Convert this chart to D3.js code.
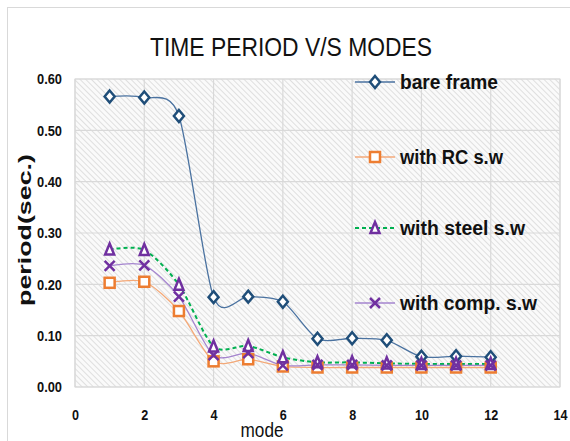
<!DOCTYPE html>
<html>
<head>
<meta charset="utf-8">
<script src="https://cdn.jsdelivr.net/npm/d3@7"></script>
<style>
  html, body { margin: 0; padding: 0; background: #fff; }
  svg { display: block; font-family: "Liberation Sans Narrow", "Arial Narrow", "Liberation Sans", sans-serif; }
</style>
</head>
<body>
<div id="chart"></div>
<script>
  // Data
  const modes = [1, 2, 3, 4, 5, 6, 7, 8, 9, 10, 11, 12];
  const bareFrame = [0.566, 0.564, 0.528, 0.175, 0.176, 0.166, 0.094, 0.095, 0.091, 0.059, 0.060, 0.058];
  const withRC = [0.203, 0.205, 0.148, 0.050, 0.054, 0.040, 0.038, 0.038, 0.038, 0.038, 0.038, 0.038];
  const withSteel = [0.268, 0.267, 0.199, 0.079, 0.080, 0.058, 0.048, 0.048, 0.046, 0.045, 0.045, 0.045];
  const withComp = [0.236, 0.237, 0.176, 0.062, 0.066, 0.042, 0.043, 0.043, 0.042, 0.042, 0.042, 0.042];
  const xTicks = [0, 2, 4, 6, 8, 10, 12, 14];
  const yTicks = [0, 0.1, 0.2, 0.3, 0.4, 0.5, 0.6];

  const series = [
    { name: 'bare frame', values: bareFrame, line: '#4a72a0', width: 1.3, dash: null, marker: 'diamond', mcolor: '#1f4e79' },
    { name: 'with RC s.w', values: withRC, line: '#f4a978', width: 1.3, dash: null, marker: 'square', mcolor: '#ed7d31' },
    { name: 'with steel s.w', values: withSteel, line: '#00b050', width: 2, dash: '4,3', marker: 'triangle', mcolor: '#7030a0' },
    { name: 'with comp. s.w', values: withComp, line: '#a585cf', width: 1.3, dash: null, marker: 'cross', mcolor: '#7030a0' }
  ];

  const W = 570, H = 441;
  const plot = { left: 75, right: 560, top: 79, bottom: 387 };

  const svg = d3.select('#chart').append('svg')
    .attr('width', W)
    .attr('height', H);

  // Hatch pattern for the plot area
  const defs = svg.append('defs');
  const pat = defs.append('pattern')
    .attr('id', 'hatch')
    .attr('patternUnits', 'userSpaceOnUse')
    .attr('width', 4)
    .attr('height', 4)
    .attr('patternTransform', 'rotate(-45)');
  pat.append('rect').attr('width', 4).attr('height', 4).attr('fill', '#fafafa');
  pat.append('line')
    .attr('x1', 0).attr('y1', 0).attr('x2', 0).attr('y2', 4)
    .attr('stroke', '#d4d4d4')
    .attr('stroke-width', 1.4);

  // Outer chart frame
  svg.append('rect')
    .attr('x', 7.5).attr('y', 7.5)
    .attr('width', 600).attr('height', 500)
    .attr('fill', '#fff')
    .attr('stroke', '#d9d9d9')
    .attr('stroke-width', 1);

  const x = d3.scaleLinear().domain([0, 14]).range([plot.left, plot.right]);
  const y = d3.scaleLinear().domain([0, 0.6]).range([plot.bottom, plot.top]);

  // Plot area
  svg.append('rect')
    .attr('x', plot.left).attr('y', plot.top)
    .attr('width', plot.right - plot.left)
    .attr('height', plot.bottom - plot.top)
    .attr('fill', 'url(#hatch)')
    .attr('stroke', '#d9d9d9');

  // Gridlines
  svg.append('g')
    .selectAll('line')
    .data(yTicks)
    .enter()
    .append('line')
    .attr('x1', plot.left).attr('x2', plot.right)
    .attr('y1', d => y(d)).attr('y2', d => y(d))
    .attr('stroke', '#d9d9d9')
    .attr('stroke-width', 1.2);

  svg.append('g')
    .selectAll('line')
    .data(xTicks)
    .enter()
    .append('line')
    .attr('y1', plot.top).attr('y2', plot.bottom)
    .attr('x1', d => x(d)).attr('x2', d => x(d))
    .attr('stroke', '#d9d9d9')
    .attr('stroke-width', 1.2);

  // Axes (labels only, as in the original) - squeezed to look like a narrow font
  const yAxis = svg.append('g')
    .attr('transform', `translate(${plot.left},0)`)
    .call(d3.axisLeft(y).tickValues(yTicks).tickFormat(d3.format('.2f')).tickSize(0).tickPadding(13));
  yAxis.select('.domain').remove();
  yAxis.selectAll('text')
    .style('font-size', '15px')
    .style('font-weight', 'bold')
    .attr('textLength', 25)
    .attr('lengthAdjust', 'spacingAndGlyphs')
    .attr('fill', '#111');

  const xAxis = svg.append('g')
    .attr('transform', `translate(0,${plot.bottom})`)
    .call(d3.axisBottom(x).tickValues(xTicks).tickFormat(d3.format('d')).tickSize(0).tickPadding(22));
  xAxis.select('.domain').remove();
  xAxis.selectAll('text')
    .style('font-size', '15px')
    .style('font-weight', 'bold')
    .attr('textLength', d => String(d).length * 7)
    .attr('lengthAdjust', 'spacingAndGlyphs')
    .attr('fill', '#111');

  // Title and axis titles
  svg.append('text')
    .attr('x', 291).attr('y', 56)
    .attr('text-anchor', 'middle')
    .attr('textLength', 282)
    .attr('lengthAdjust', 'spacingAndGlyphs')
    .style('font-size', '25px')
    .attr('fill', '#111')
    .text('TIME PERIOD V/S MODES');

  svg.append('text')
    .attr('x', 262).attr('y', 437)
    .attr('text-anchor', 'middle')
    .attr('textLength', 43)
    .attr('lengthAdjust', 'spacingAndGlyphs')
    .style('font-size', '20px')
    .attr('fill', '#111')
    .text('mode');

  svg.append('text')
    .attr('transform', 'translate(31,230) rotate(-90)')
    .attr('text-anchor', 'middle')
    .attr('textLength', 152)
    .attr('lengthAdjust', 'spacingAndGlyphs')
    .style('font-size', '19px')
    .style('font-weight', 'bold')
    .attr('fill', '#111')
    .text('period(sec.)');

  // Markers
  function drawMarker(g, type, color) {
    if (type === 'diamond') {
      g.append('path').attr('d', 'M0,-6L5,0L0,6L-5,0Z')
        .attr('fill', '#fff').attr('stroke', color).attr('stroke-width', 2.5);
    } else if (type === 'square') {
      g.append('rect').attr('x', -5).attr('y', -5).attr('width', 10).attr('height', 10)
        .attr('fill', '#fff').attr('stroke', color).attr('stroke-width', 2.5);
    } else if (type === 'triangle') {
      g.append('path').attr('d', 'M0,-6L4.5,5L-4.5,5Z')
        .attr('fill', '#fff').attr('stroke', color).attr('stroke-width', 2.5);
    } else {
      g.append('path').attr('d', 'M-5,-5L5,5M5,-5L-5,5')
        .attr('fill', 'none').attr('stroke', color).attr('stroke-width', 2.5);
    }
  }

  const line = d3.line()
    .x(d => x(d[0]))
    .y(d => y(d[1]))
    .curve(d3.curveCardinal.tension(0.2));

  // Draw lines first, then markers on top
  series.forEach(s => {
    const pts = modes.map((m, i) => [m, s.values[i]]);
    svg.append('path')
      .datum(pts)
      .attr('fill', 'none')
      .attr('stroke', s.line)
      .attr('stroke-width', s.width)
      .attr('stroke-dasharray', s.dash)
      .attr('d', line);
  });

  series.forEach(s => {
    modes.forEach((m, i) => {
      const g = svg.append('g').attr('transform', `translate(${x(m)},${y(s.values[i])})`);
      drawMarker(g, s.marker, s.mcolor);
    });
  });

  // Legend
  const legendY = [82, 157, 228, 303];
  const legendW = [98, 103, 125, 137];
  series.forEach((s, i) => {
    const g = svg.append('g').attr('transform', `translate(355,${legendY[i]})`);
    g.append('line')
      .attr('x1', 0).attr('x2', 40)
      .attr('stroke', s.line)
      .attr('stroke-width', s.width)
      .attr('stroke-dasharray', s.dash);
    drawMarker(g.append('g').attr('transform', 'translate(20,0)'), s.marker, s.mcolor);
    g.append('text')
      .attr('x', 45).attr('y', 7)
      .attr('textLength', legendW[i])
      .attr('lengthAdjust', 'spacingAndGlyphs')
      .style('font-size', '20px')
      .style('font-weight', 'bold')
      .attr('fill', '#111')
      .text(s.name);
  });
</script>
</body>
</html>
